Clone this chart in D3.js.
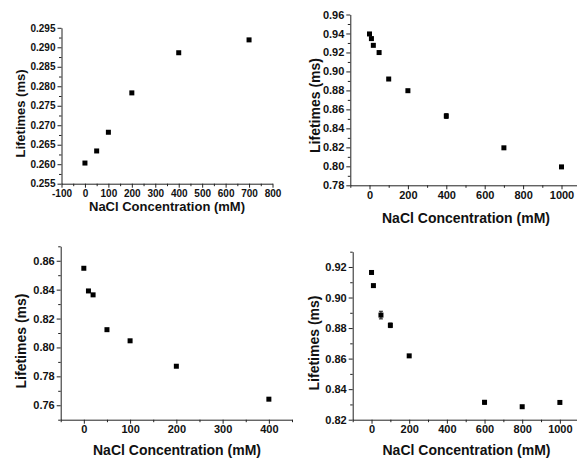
<!DOCTYPE html>
<html>
<head>
<meta charset="utf-8">
<script src="https://cdn.jsdelivr.net/npm/d3@7"></script>
<style>
  body { margin: 0; background: #fff; }
  text { font-family: "Liberation Sans", Arial, sans-serif; font-weight: bold; fill: #111; }
</style>
</head>
<body>
<div id="chart"></div>
<script>
// donnees
const concA = [0, 50, 100, 200, 400, 700];
const lifeA = [0.2603, 0.2634, 0.2682, 0.2783, 0.2886, 0.2919];

const concB = [0, 10, 20, 50, 100, 200, 400, 700, 1000];
const lifeB = [0.9395, 0.9346, 0.9275, 0.9199, 0.892, 0.8797, 0.853, 0.8195, 0.7994];
const errB = [0, 0, 0, 0, 0, 0, 0.0025, 0, 0];

const concC = [0, 10, 20, 50, 100, 200, 400];
const lifeC = [0.8548, 0.8391, 0.8364, 0.8123, 0.8046, 0.787, 0.7642];

const concD = [0, 10, 50, 100, 200, 600, 800, 1000];
const lifeD = [0.9164, 0.9078, 0.8885, 0.8818, 0.8618, 0.8314, 0.8285, 0.8313];
const errD = [0, 0, 0.0025, 0.0015, 0, 0.0012, 0, 0];

const xTitle = "NaCl Concentration (mM)";
const yTitle = "Lifetimes (ms)";

const width = 577, height = 458;

const svg = d3.select("#chart").append("svg")
  .attr("width", width)
  .attr("height", height);

// format des ticks x : tiret simple, pas de separateur de milliers
const xFmt = d => (d < 0 ? "-" + Math.abs(d) : String(d));

// un panneau = un petit graphe
const panels = [
  {
    x: concA, y: lifeA, err: null,
    xDom: [-100, 800], xRange: [61.5, 272.5], xTicks: d3.range(-100, 801, 100), xMinor: d3.range(-50, 800, 100),
    yDom: [0.255, 0.295], yRange: [183.7, 27.8], yTicks: d3.range(0.255, 0.2951, 0.005), yMinor: d3.range(0.2575, 0.295, 0.005),
    yFmt: ".3f", tickFont: 10, titleFont: 13,
    xLab: [167, 210.5], yLab: [25, 113.5]
  },
  {
    x: concB, y: lifeB, err: errB,
    xDom: [-100, 1100], xRange: [350.3, 580.7], xTicks: d3.range(0, 1001, 200), xMinor: d3.range(-100, 1100, 200),
    yDom: [0.78, 0.96], yRange: [185.3, 14.5], yTicks: d3.range(0.78, 0.9601, 0.02), yMinor: d3.range(0.79, 0.96, 0.02),
    yFmt: ".2f", tickFont: 11, titleFont: 14,
    xLab: [466, 222.5], yLab: [320, 105.5]
  },
  {
    x: concC, y: lifeC, err: null,
    xDom: [-50, 450], xRange: [60.7, 292], xTicks: d3.range(0, 401, 100), xMinor: d3.range(-50, 451, 100),
    yDom: [0.75, 0.87], yRange: [419.7, 246.3], yTicks: d3.range(0.76, 0.8601, 0.02), yMinor: d3.range(0.75, 0.871, 0.02),
    yFmt: ".2f", tickFont: 11, titleFont: 14,
    xLab: [177, 454.5], yLab: [25.5, 341]
  },
  {
    x: concD, y: lifeD, err: errD,
    xDom: [-100, 1100], xRange: [352.7, 578.7], xTicks: d3.range(0, 1001, 200), xMinor: d3.range(-100, 1100, 200),
    yDom: [0.82, 0.93], yRange: [419.7, 251.7], yTicks: d3.range(0.82, 0.9201, 0.02), yMinor: d3.range(0.83, 0.931, 0.02),
    yFmt: ".2f", tickFont: 11, titleFont: 14,
    xLab: [466.5, 454.5], yLab: [318.5, 343]
  }
];

panels.forEach(p => {
  const x = d3.scaleLinear().domain(p.xDom).range(p.xRange);
  const y = d3.scaleLinear().domain(p.yDom).range(p.yRange);
  const g = svg.append("g");

  const x0 = p.xRange[0], y0 = p.yRange[0];

  // ticks mineurs
  g.append("g")
    .attr("transform", `translate(0,${y0})`)
    .call(d3.axisBottom(x).tickValues(p.xMinor).tickSize(2.5).tickFormat("").tickSizeOuter(0))
    .call(a => a.select(".domain").remove());
  g.append("g")
    .attr("transform", `translate(${x0},0)`)
    .call(d3.axisLeft(y).tickValues(p.yMinor).tickSize(2.5).tickFormat("").tickSizeOuter(0))
    .call(a => a.select(".domain").remove());

  // axes principaux
  const xa = g.append("g")
    .attr("transform", `translate(0,${y0})`)
    .call(d3.axisBottom(x).tickValues(p.xTicks).tickSize(4).tickPadding(2).tickFormat(xFmt).tickSizeOuter(0));
  const ya = g.append("g")
    .attr("transform", `translate(${x0},0)`)
    .call(d3.axisLeft(y).tickValues(p.yTicks).tickSize(4).tickPadding(2).tickFormat(d3.format(p.yFmt)).tickSizeOuter(0));

  [xa, ya].forEach(a => {
    a.selectAll("text").style("font-size", p.tickFont + "px").attr("fill", "#111");
    a.selectAll("line, path").attr("stroke", "#222");
  });
  g.selectAll(".tick line").attr("stroke", "#222");

  // barres d'erreur
  if (p.err) {
    const withErr = p.x.map((c, i) => ({ c, v: p.y[i], e: p.err[i] })).filter(d => d.e > 0);
    g.selectAll("line.err")
      .data(withErr)
      .join("line")
      .attr("class", "err")
      .attr("x1", d => x(d.c)).attr("x2", d => x(d.c))
      .attr("y1", d => y(d.v - d.e)).attr("y2", d => y(d.v + d.e))
      .attr("stroke", "#111").attr("stroke-width", 1);
    g.selectAll("line.cap")
      .data(withErr.flatMap(d => [d.v - d.e, d.v + d.e].map(v => ({ c: d.c, v }))))
      .join("line")
      .attr("class", "cap")
      .attr("x1", d => x(d.c) - 2).attr("x2", d => x(d.c) + 2)
      .attr("y1", d => y(d.v)).attr("y2", d => y(d.v))
      .attr("stroke", "#111").attr("stroke-width", 1);
  }

  // points carres
  g.selectAll("rect.pt")
    .data(p.x.map((c, i) => ({ c, v: p.y[i] })))
    .join("rect")
    .attr("class", "pt")
    .attr("x", d => x(d.c) - 2.5)
    .attr("y", d => y(d.v) - 2.5)
    .attr("width", 5)
    .attr("height", 5)
    .attr("fill", "#000");

  // titres
  g.append("text")
    .attr("x", p.xLab[0]).attr("y", p.xLab[1])
    .attr("text-anchor", "middle")
    .style("font-size", p.titleFont + "px")
    .text(xTitle);
  g.append("text")
    .attr("transform", `translate(${p.yLab[0]},${p.yLab[1]}) rotate(-90)`)
    .attr("text-anchor", "middle")
    .style("font-size", p.titleFont + "px")
    .text(yTitle);
});
</script>
</body>
</html>
